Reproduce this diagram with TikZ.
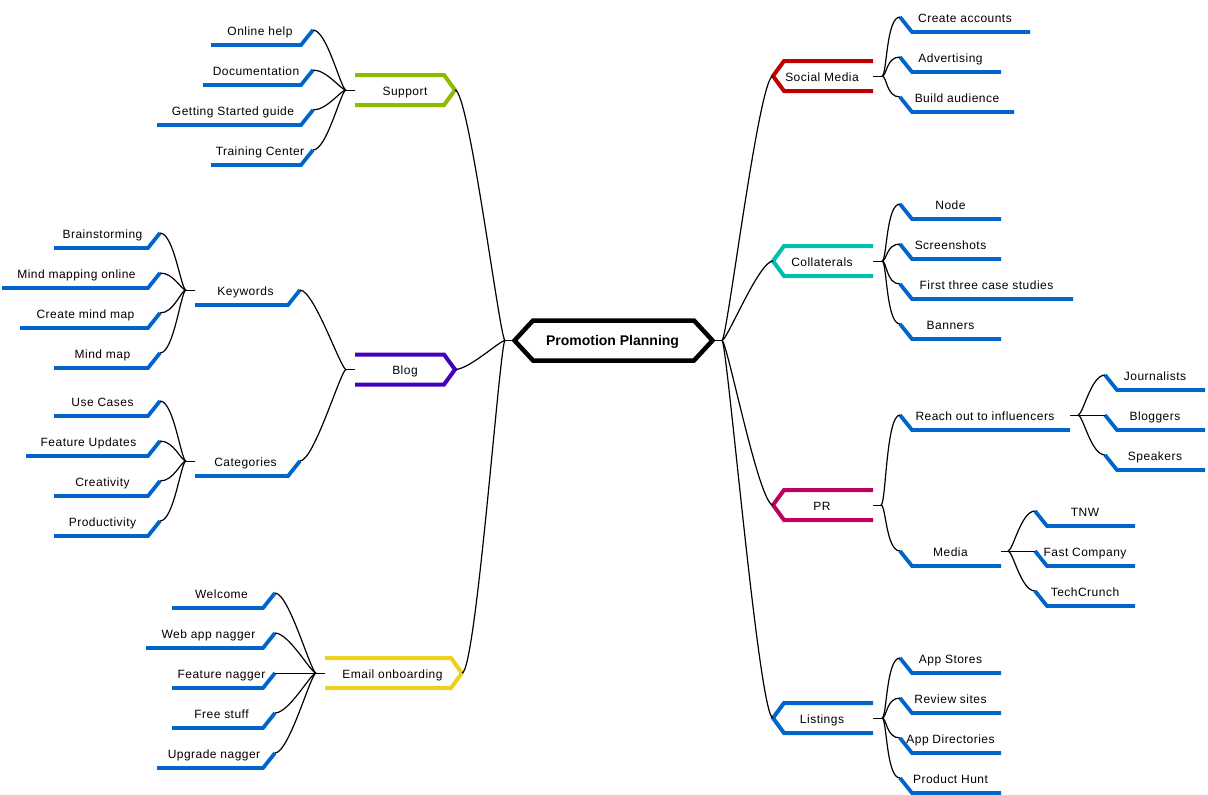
\documentclass[tikz,border=0pt]{standalone}
\usepackage{fontspec}
\setmainfont[LetterSpace=4, BoldFeatures={LetterSpace=0}]{Liberation Sans}
\usetikzlibrary{positioning, calc}
\definecolor{barblue}{RGB}{0,102,204}
\definecolor{tagolive}{RGB}{140,188,0}
\definecolor{tagpurple}{RGB}{68,0,187}
\definecolor{tagyellow}{RGB}{238,208,30}
\definecolor{tagred}{RGB}{192,0,0}
\definecolor{tagteal}{RGB}{0,190,175}
\definecolor{tagpink}{RGB}{190,0,96}

\begin{document}
\begin{tikzpicture}[x=1pt, y=-1pt,
  every node/.style={font=\fontsize{12}{14}\selectfont, inner sep=0pt, outer sep=0pt, text height=10pt, text depth=0pt},
  bar/.style={barblue, line width=3.8pt},
  tag/.style={line width=4pt},
  link/.style={black, line width=1.2pt, out min distance=5pt, out max distance=5pt, in min distance=14pt, in max distance=14pt},
  linkl/.style={link, out=180, in=0},
  linkr/.style={link, out=0, in=180},
  tie/.style={black, line width=1pt},
  leafl/.style={anchor=east, minimum width=#1, minimum height=30pt, execute at end node={\kern4pt},
    append after command={\pgfextra{\draw[bar] (\tikzlastnode.east) -- ($(\tikzlastnode.south east)+(-12,0)$) -- (\tikzlastnode.south west);}}},
  leafr/.style={anchor=west, minimum width=#1, minimum height=30pt,
    append after command={\pgfextra{\draw[bar] (\tikzlastnode.west) -- ($(\tikzlastnode.south west)+(12,0)$) -- (\tikzlastnode.south east);}}},
  farl/.style={execute at end node={\kern5pt}},
  tagr/.style={minimum width=100pt, minimum height=30pt,
    append after command={\pgfextra{\draw[tag, #1] (\tikzlastnode.north west) -- ($(\tikzlastnode.north east)+(-11,0)$) -- (\tikzlastnode.east) -- ($(\tikzlastnode.south east)+(-11,0)$) -- (\tikzlastnode.south west);}}},
  tagl/.style={minimum width=100pt, minimum height=30pt, execute at end node={\kern2pt},
    append after command={\pgfextra{\draw[tag, #1] (\tikzlastnode.north east) -- ($(\tikzlastnode.north west)+(11,0)$) -- (\tikzlastnode.west) -- ($(\tikzlastnode.south west)+(11,0)$) -- (\tikzlastnode.south east);}}},
  mainhex/.style={minimum width=198pt, minimum height=40pt, font=\fontsize{14}{16}\selectfont\bfseries,
    append after command={\pgfextra{\draw[black, line width=4.5pt] (\tikzlastnode.west) -- ($(\tikzlastnode.north west)+(18.5,0)$) -- ($(\tikzlastnode.north east)+(-18.5,0)$) -- (\tikzlastnode.east) -- ($(\tikzlastnode.south east)+(-18.5,0)$) -- ($(\tikzlastnode.south west)+(18.5,0)$) -- cycle;}}}
]
\useasboundingbox (0,0) rectangle (1208,795);

\node (plan) [mainhex, execute at end node={\kern2pt}] at (613.5,340.5) {Promotion Planning};

% left side
\node (support) [tagr=tagolive] at (405,90) {Support};
\node (blog) [tagr=tagpurple] at (405,369.5) {Blog};
\node (email) [tagr=tagyellow, minimum width=137pt, execute at end node={\kern2pt}] at (393.5,673) {Email onboarding};

\node (online) [leafl=102] at (313,30) {Online help};
\node (docs) [leafl=110] at (313,70) {Documentation};
\node (started) [leafl=156] at (313,110) {Getting Started guide};
\node (training) [leafl=102] at (313,150) {Training Center};

\node (keywords) [leafl=105] at (300,290) {Keywords};
\node (categories) [leafl=105] at (300,461) {Categories};

\node (brain) [leafl=106, farl] at (160,233) {Brainstorming};
\node (mapping) [leafl=158, farl] at (160,273) {Mind mapping online};
\node (create) [leafl=140, farl] at (160,313) {Create mind map};
\node (mindmap) [leafl=106, farl] at (160,353) {Mind map};
\node (usecases) [leafl=106, farl] at (160,401) {Use Cases};
\node (updates) [leafl=134, farl] at (160,441) {Feature Updates};
\node (creativity) [leafl=106, farl] at (160,481) {Creativity};
\node (productivity) [leafl=106, farl] at (160,521) {Productivity};

\node (welcome) [leafl=103] at (275,593) {Welcome};
\node (webapp) [leafl=129] at (275,633) {Web app nagger};
\node (feature) [leafl=103] at (275,673) {Feature nagger};
\node (free) [leafl=103] at (275,713) {Free stuff};
\node (upgrade) [leafl=118] at (275,753) {Upgrade nagger};

% right side
\node (social) [tagl=tagred] at (823,76) {Social Media};
\node (collaterals) [tagl=tagteal] at (823,261) {Collaterals};
\node (pr) [tagl=tagpink] at (823,505) {PR};
\node (listings) [tagl=barblue] at (823,718) {Listings};

\node (accounts) [leafr=130] at (900,17) {Create accounts};
\node (advertising) [leafr=101] at (900,57) {Advertising};
\node (audience) [leafr=114] at (900,97) {Build audience};

\node (nodeitem) [leafr=101] at (900,204) {Node};
\node (screenshots) [leafr=101] at (900,244) {Screenshots};
\node (cases) [leafr=173] at (900,284) {First three case studies};
\node (banners) [leafr=101] at (900,324) {Banners};

\node (reach) [leafr=170] at (900,415) {Reach out to influencers};
\node (media) [leafr=101] at (900,551) {Media};
\node (journalists) [leafr=100] at (1105,375) {Journalists};
\node (bloggers) [leafr=100] at (1105,415) {Bloggers};
\node (speakers) [leafr=100] at (1105,455) {Speakers};
\node (tnw) [leafr=100] at (1035,511) {TNW};
\node (fast) [leafr=100] at (1035,551) {Fast Company};
\node (crunch) [leafr=100] at (1035,591) {TechCrunch};

\node (stores) [leafr=101] at (900,658) {App Stores};
\node (reviews) [leafr=101] at (900,698) {Review sites};
\node (directories) [leafr=101] at (900,738) {App Directories};
\node (hunt) [leafr=101] at (900,778) {Product Hunt};

% hubs
\coordinate (hubplanl) at (505,340.5);
\coordinate (hubplanr) at (722,340.5);
\coordinate (hubsupport) at (346,90);
\coordinate (hubblog) at (346,369.5);
\coordinate (hubemail) at (316,673);
\coordinate (hubkeywords) at (186,290);
\coordinate (hubcategories) at (186,461);
\coordinate (hubsocial) at (882,76);
\coordinate (hubcollaterals) at (882,261);
\coordinate (hubpr) at (881,505);
\coordinate (hublistings) at (882,718);
\coordinate (hubreach) at (1078,415);
\coordinate (hubmedia) at (1008,551);

% connectors
\draw [tie] (plan.west) -- (hubplanl);
\draw [linkl] (hubplanl) to (support.east);
\draw [linkl] (hubplanl) to (blog.east);
\draw [linkl] (hubplanl) to (email.east);

\draw [tie] (support.west) -- (hubsupport);
\draw [linkl] (hubsupport) to (online.east);
\draw [linkl] (hubsupport) to (docs.east);
\draw [linkl] (hubsupport) to (started.east);
\draw [linkl] (hubsupport) to (training.east);

\draw [tie] (blog.west) -- (hubblog);
\draw [linkl] (hubblog) to (keywords.east);
\draw [linkl] (hubblog) to (categories.east);

\draw [tie] (keywords.west) -- (hubkeywords);
\draw [linkl] (hubkeywords) to (brain.east);
\draw [linkl] (hubkeywords) to (mapping.east);
\draw [linkl] (hubkeywords) to (create.east);
\draw [linkl] (hubkeywords) to (mindmap.east);

\draw [tie] (categories.west) -- (hubcategories);
\draw [linkl] (hubcategories) to (usecases.east);
\draw [linkl] (hubcategories) to (updates.east);
\draw [linkl] (hubcategories) to (creativity.east);
\draw [linkl] (hubcategories) to (productivity.east);

\draw [tie] (email.west) -- (hubemail);
\draw [linkl] (hubemail) to (welcome.east);
\draw [linkl] (hubemail) to (webapp.east);
\draw [tie] (hubemail) -- (feature.east);
\draw [linkl] (hubemail) to (free.east);
\draw [linkl] (hubemail) to (upgrade.east);

\draw [tie] (plan.east) -- (hubplanr);
\draw [linkr] (hubplanr) to (social.west);
\draw [linkr] (hubplanr) to (collaterals.west);
\draw [linkr] (hubplanr) to (pr.west);
\draw [linkr] (hubplanr) to (listings.west);

\draw [tie] (social.east) -- (hubsocial);
\draw [linkr] (hubsocial) to (accounts.west);
\draw [linkr] (hubsocial) to (advertising.west);
\draw [linkr] (hubsocial) to (audience.west);

\draw [tie] (collaterals.east) -- (hubcollaterals);
\draw [linkr] (hubcollaterals) to (nodeitem.west);
\draw [linkr] (hubcollaterals) to (screenshots.west);
\draw [linkr] (hubcollaterals) to (cases.west);
\draw [linkr] (hubcollaterals) to (banners.west);

\draw [tie] (pr.east) -- (hubpr);
\draw [linkr] (hubpr) to (reach.west);
\draw [linkr] (hubpr) to (media.west);

\draw [tie] (reach.east) -- (hubreach);
\draw [linkr] (hubreach) to (journalists.west);
\draw [tie] (hubreach) -- (bloggers.west);
\draw [linkr] (hubreach) to (speakers.west);

\draw [tie] (media.east) -- (hubmedia);
\draw [linkr] (hubmedia) to (tnw.west);
\draw [tie] (hubmedia) -- (fast.west);
\draw [linkr] (hubmedia) to (crunch.west);

\draw [tie] (listings.east) -- (hublistings);
\draw [linkr] (hublistings) to (stores.west);
\draw [linkr] (hublistings) to (reviews.west);
\draw [linkr] (hublistings) to (directories.west);
\draw [linkr] (hublistings) to (hunt.west);
\end{tikzpicture}
\end{document}
